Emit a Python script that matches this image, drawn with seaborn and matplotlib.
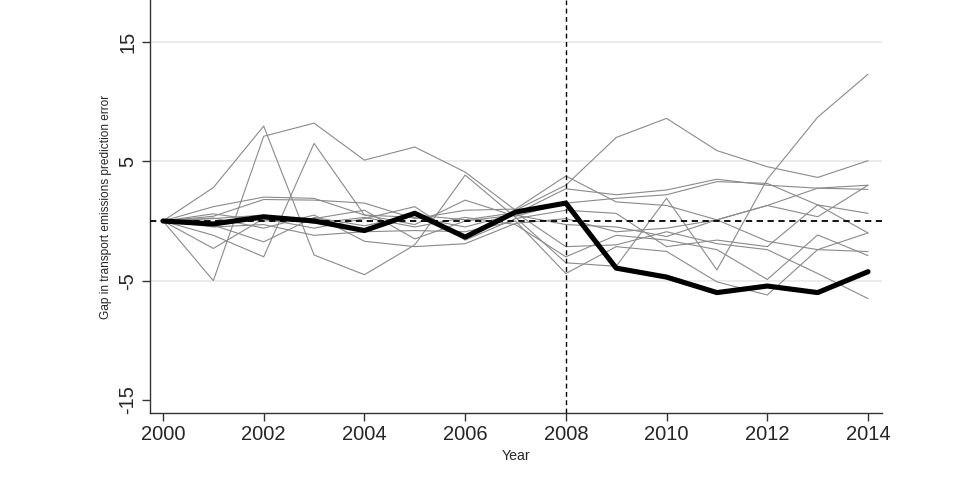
import numpy as np
import pandas as pd
import matplotlib
matplotlib.use("Agg")
import matplotlib.pyplot as plt
import seaborn as sns

years = list(range(2000, 2015))

treated = [0, -0.25, 0.35, 0.0, -0.8, 0.65, -1.35, 0.75, 1.5, -3.95, -4.7, -6.0, -5.45, -6.0, -4.25]

donor_1 = [0, -5.0, 7.1, 8.2, 5.1, 6.2, 4.1, 0.9, 3.0, 7.0, 8.6, 5.9, 4.55, 3.65, 5.05]
donor_2 = [0, 2.8, 7.95, -2.85, -4.5, -2.0, 3.85, 0.3, -3.5, -3.8, 1.9, -4.1, 3.5, 8.7, 12.3]
donor_3 = [0, -1.2, -3.0, 6.5, 0.5, 0.3, -0.5, 0.6, 2.7, 2.2, 2.6, 3.5, 3.0, 2.75, 2.65]
donor_4 = [0, 1.2, 2.0, 1.9, 0.5, -0.3, 1.75, 0.4, 1.5, 1.9, 2.2, 3.3, 3.15, 1.35, -1.0]
donor_5 = [0, 0.4, 1.8, 1.75, 1.5, 0.2, 0.9, 1.0, 3.77, 1.6, 1.3, 0.1, 1.3, 0.36, 3.0]
donor_6 = [0, -2.3, 0.2, -0.6, 0.2, 1.2, -1.6, 0.2, 0.9, 0.64, -2.15, -1.6, -2.15, 1.35, 0.64]
donor_7 = [0, 0.25, -0.6, 0.5, -1.7, -2.15, -1.9, -0.2, 0.2, -0.9, -0.6, 0.1, -1.7, -2.4, -2.56]
donor_8 = [0, -0.35, -1.75, 0.3, -0.4, 0.5, 0.1, 0.7, -2.15, -2.0, -0.9, -1.9, -2.4, -4.4, -6.5]
donor_9 = [0, 0.2, 0.5, -0.2, 0.3, -0.5, 0.3, -0.3, -3.0, -1.2, -1.6, -2.4, -4.9, -1.17, -2.9]
donor_10 = [0, -0.5, -0.3, -1.2, -0.9, -0.8, -0.9, 0.0, -4.4, -2.15, -2.55, -5.1, -6.2, -2.4, -1.0]
donor_11 = [0, 0.6, 0.0, 0.2, 0.9, -1.5, 0.0, 0.5, -0.3, -0.5, -1.3, 0.1, 1.3, 2.75, 3.0]

donors = [donor_1, donor_2, donor_3, donor_4, donor_5, donor_6, donor_7,
          donor_8, donor_9, donor_10, donor_11]

y_ticks = [-15, -5, 5, 15]
x_ticks = [2000, 2002, 2004, 2006, 2008, 2010, 2012, 2014]
treat_year = 2008

rows = []
for i, d in enumerate(donors):
    for yr, v in zip(years, d):
        rows.append({"unit": i, "year": yr, "gap": v})
df_donors = pd.DataFrame(rows)
df_treated = pd.DataFrame({"year": years, "gap": treated})

sns.set_style("white")
plt.rcParams["font.family"] = ["Liberation Sans", "DejaVu Sans"]

fig = plt.figure(figsize=(9.6, 4.78), dpi=100)
ax = fig.add_axes([150 / 960, 1 - 413 / 478, (882 - 150) / 960, 413 / 478])

for yt in [15, 5, -5]:
    ax.axhline(yt, color="#e6eaea", lw=1.3, zorder=0)

sns.lineplot(data=df_donors, x="year", y="gap", units="unit", estimator=None,
             color="#8a8a8a", lw=0.8, ax=ax, legend=False, zorder=2)
sns.lineplot(data=df_treated, x="year", y="gap", color="black", lw=3.7,
             ax=ax, legend=False, zorder=4)

ax.axhline(0, color="black", lw=1.3, ls=(0, (3.5, 2.5)), zorder=3)
ax.axvline(treat_year, color="black", lw=1.0, ls=(0, (3.5, 2.5)), zorder=3)

ax.set_xlim(1999.742, 2014.278)
ax.set_ylim(-16.09, 18.52)
ax.set_xticks(x_ticks)
ax.set_yticks(y_ticks)
ax.set_xticklabels([str(t) for t in x_ticks], fontsize=14.5)
ax.set_yticklabels([str(t) for t in y_ticks], fontsize=14.5, rotation=90, va="center")
ax.tick_params(axis="both", direction="out", length=6, width=1.0, color="#333333",
               left=True, bottom=True, pad=3)
ax.set_xlabel("Year", fontsize=10.2, labelpad=3)
ax.set_ylabel("Gap in transport emissions prediction error", fontsize=8.6, labelpad=5)

for s in ["top", "right"]:
    ax.spines[s].set_visible(False)
for s in ["left", "bottom"]:
    ax.spines[s].set_color("#333333")
    ax.spines[s].set_linewidth(1.0)

fig.savefig("out.png", dpi=100)
